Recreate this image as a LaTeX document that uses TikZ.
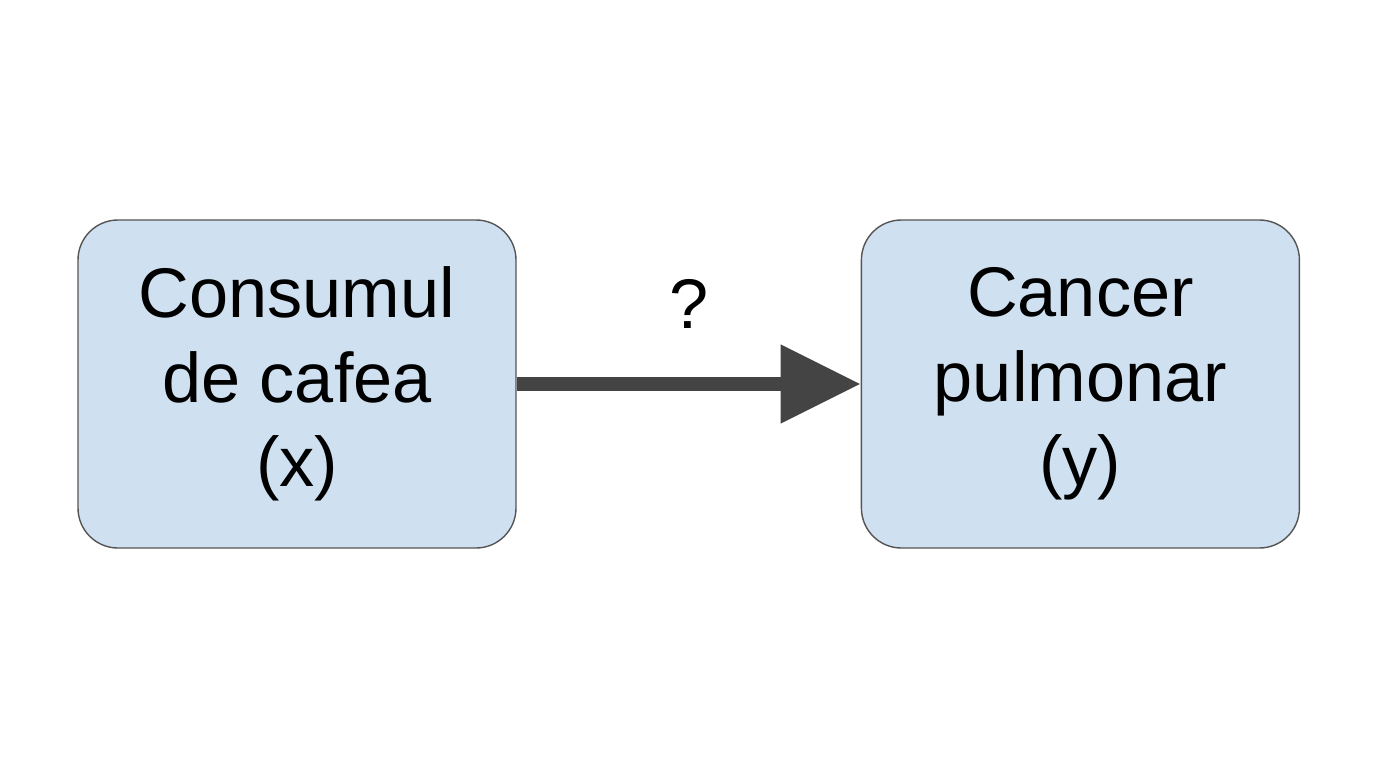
\documentclass[tikz,border=0pt]{standalone}
\usepackage{fontspec}
\setmainfont{Liberation Sans}
\usetikzlibrary{arrows.meta, positioning}
\definecolor{boxfill}{HTML}{CFE0F0}
\definecolor{boxline}{HTML}{555555}
\definecolor{arrowgray}{HTML}{444444}
\tikzstyle{var} = [rectangle, draw=boxline, line width=0.8pt, fill=boxfill, rounded corners=0.8cm, minimum width=8.76cm, minimum height=6.56cm, align=center, font=\fontsize{40}{48}\selectfont]
\tikzstyle{arrow} = [-{Triangle[length=1.6cm, width=1.5cm]}, line width=0.28cm, draw=arrowgray]

\begin{document}
\begin{tikzpicture}
\useasboundingbox[fill=white] (0,0) rectangle (27.52,-15.36);

\node[var] (cafea) at (5.94,-7.68) {Consumul\\de cafea\\(x)};
\node[var, right=6.88cm of cafea] (cancer) {Cancer\\pulmonar\\(y)};

% causal link
\draw[arrow] (cafea) -- node[above=0.85cm, font=\fontsize{40}{48}\selectfont] (q) {?} (cancer);

\end{tikzpicture}
\end{document}
